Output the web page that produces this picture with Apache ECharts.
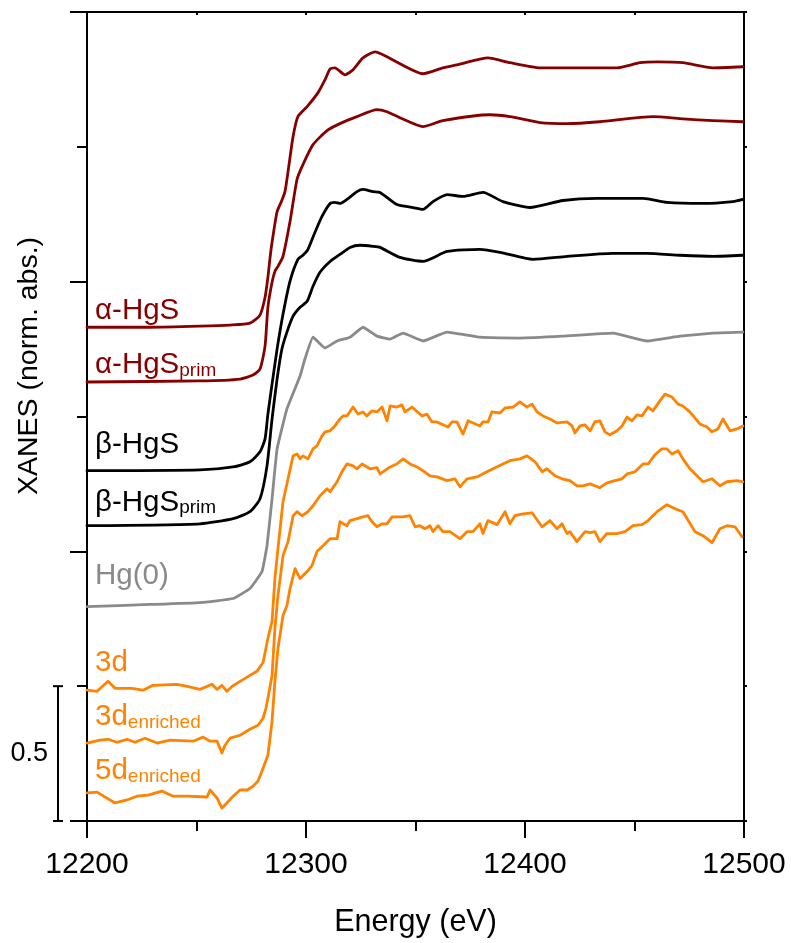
<!DOCTYPE html>
<html><head><meta charset="utf-8">
<script src="https://cdn.jsdelivr.net/npm/echarts@6/dist/echarts.min.js"></script>
<style>html,body{margin:0;padding:0;background:#fff}#c{width:791px;height:943px}</style>
</head><body><div id="c"></div>
<script>
// ---------- data (energy in eV, normalised absorbance incl. vertical offset) ----------
const xMin = 12200, xMax = 12500, xStep = 100;
const yMin = 0, yMax = 3;
const xTickLabels = ['12200', '12300', '12400', '12500'];
const scaleBarValue = 0.5;
const scaleBarLabel = '0.5';
const xAxisTitle = 'Energy (eV)';
const yAxisTitle = 'XANES (norm. abs.)';

const aHgS_E = [12200.0,12228.8,12251.6,12265.3,12274.4,12279.0,12281.3,12282.6,12283.6,12284.5,12286.8,12288.6,12290.4,12291.8,12294.1,12296.3,12300.5,12305.5,12308.7,12311.0,12313.2,12317.8,12321.5,12326.0,12331.5,12337.0,12342.9,12353.4,12362.5,12368.9,12383.1,12393.1,12406.8,12421.9,12442.0,12452.5,12460.3,12472.1,12485.8,12499.5];
const aHgS_v = [1.831,1.831,1.835,1.839,1.846,1.876,1.942,2.016,2.090,2.146,2.260,2.294,2.334,2.408,2.538,2.612,2.649,2.701,2.749,2.789,2.793,2.767,2.786,2.830,2.852,2.834,2.808,2.771,2.793,2.804,2.830,2.812,2.793,2.793,2.793,2.812,2.815,2.812,2.793,2.797];

const aHgSp_E = [12200.0,12251.6,12269.9,12275.8,12279.0,12281.3,12282.6,12284.5,12285.8,12287.2,12289.5,12292.7,12295.9,12298.6,12303.2,12309.6,12315.5,12323.3,12332.4,12337.0,12342.9,12353.4,12362.5,12384.0,12393.1,12406.8,12419.2,12434.2,12458.4,12472.1,12485.8,12499.5];
const aHgSp_v = [1.628,1.632,1.639,1.654,1.676,1.761,1.905,1.998,2.038,2.057,2.094,2.223,2.379,2.434,2.508,2.560,2.586,2.612,2.638,2.630,2.608,2.575,2.597,2.619,2.612,2.590,2.586,2.593,2.612,2.604,2.597,2.593];

const bHgS_E = [12200.0,12251.6,12266.7,12274.4,12279.0,12281.3,12282.6,12284.5,12286.8,12289.5,12292.7,12296.3,12298.6,12300.9,12304.1,12307.3,12311.0,12313.2,12315.5,12318.7,12323.3,12326.0,12330.6,12333.8,12341.5,12348.9,12353.4,12358.0,12364.4,12371.7,12380.8,12389.9,12402.3,12417.3,12432.9,12453.9,12464.8,12481.3,12495.0,12499.5];
const bHgS_v = [1.299,1.302,1.313,1.332,1.369,1.417,1.509,1.620,1.750,1.879,2.002,2.083,2.098,2.120,2.183,2.242,2.290,2.294,2.290,2.305,2.334,2.342,2.334,2.331,2.286,2.275,2.268,2.297,2.323,2.316,2.331,2.297,2.275,2.301,2.309,2.309,2.294,2.290,2.297,2.305];

const bHgSp_E = [12200.0,12251.6,12266.7,12274.4,12279.0,12282.2,12284.5,12286.8,12289.0,12291.3,12294.1,12297.3,12300.5,12303.2,12306.4,12311.0,12315.5,12320.1,12324.7,12330.6,12333.8,12342.9,12353.4,12364.4,12379.4,12388.6,12403.6,12419.2,12440.2,12455.7,12470.8,12485.8,12499.5];
const bHgSp_v = [1.095,1.102,1.121,1.147,1.195,1.317,1.491,1.639,1.750,1.813,1.872,1.905,1.927,1.983,2.035,2.075,2.101,2.127,2.135,2.131,2.127,2.090,2.075,2.112,2.120,2.109,2.083,2.094,2.105,2.105,2.098,2.094,2.098];

const hg0_E = [12200.0,12228.8,12251.6,12266.7,12274.4,12279.9,12282.2,12284.5,12286.8,12291.3,12297.3,12299.5,12303.2,12308.7,12314.2,12320.1,12326.0,12332.4,12338.4,12344.3,12353.4,12364.4,12379.4,12397.7,12417.3,12440.2,12455.7,12470.8,12485.8,12499.5];
const hg0_v = [0.795,0.803,0.810,0.825,0.862,0.925,1.021,1.195,1.380,1.528,1.650,1.713,1.794,1.754,1.780,1.794,1.831,1.798,1.787,1.809,1.780,1.813,1.794,1.791,1.798,1.809,1.780,1.798,1.809,1.813];

const d3_E = [12200.0,12204.6,12209.6,12212.8,12220.5,12225.6,12230.1,12241.1,12245.7,12251.6,12257.1,12259.4,12261.6,12263.9,12266.2,12269.9,12274.4,12277.6,12280.4,12282.6,12284.5,12285.8,12287.2,12289.5,12291.8,12294.1,12295.9,12297.3,12298.6,12300.9,12303.2,12305.0,12307.3,12308.7,12311.0,12313.2,12315.5,12316.9,12318.7,12321.5,12323.7,12326.0,12327.8,12330.1,12332.4,12334.7,12337.0,12338.4,12341.5,12343.8,12345.2,12348.4,12353.0,12355.2,12357.5,12359.8,12364.8,12366.7,12368.9,12371.7,12374.0,12379.4,12380.8,12383.1,12384.9,12388.6,12390.9,12394.5,12397.7,12400.9,12403.2,12405.5,12408.2,12411.4,12414.6,12419.2,12421.5,12422.8,12425.1,12427.4,12429.7,12431.9,12434.2,12436.5,12438.8,12442.0,12444.3,12446.6,12448.8,12451.1,12453.4,12456.2,12458.4,12461.6,12463.9,12467.1,12469.9,12472.1,12475.3,12479.9,12483.1,12485.4,12488.1,12490.4,12493.6,12496.8,12499.5];
const d3_v = [0.485,0.481,0.518,0.492,0.492,0.485,0.503,0.507,0.499,0.488,0.507,0.488,0.503,0.481,0.499,0.518,0.540,0.555,0.588,0.677,0.740,0.899,1.010,1.184,1.269,1.354,1.361,1.343,1.354,1.343,1.380,1.391,1.428,1.443,1.447,1.465,1.491,1.502,1.502,1.535,1.509,1.517,1.502,1.521,1.517,1.535,1.484,1.539,1.535,1.543,1.517,1.535,1.502,1.509,1.480,1.480,1.461,1.480,1.480,1.435,1.484,1.465,1.480,1.480,1.517,1.513,1.532,1.535,1.554,1.535,1.546,1.517,1.502,1.491,1.476,1.480,1.465,1.439,1.465,1.469,1.447,1.480,1.484,1.443,1.432,1.447,1.465,1.498,1.484,1.506,1.502,1.535,1.521,1.558,1.583,1.572,1.546,1.539,1.517,1.472,1.461,1.443,1.454,1.491,1.447,1.454,1.465];

const d3e_E = [12200.0,12205.9,12209.6,12213.7,12218.3,12221.9,12226.5,12232.0,12237.9,12248.4,12253.0,12256.2,12259.4,12261.6,12263.0,12265.3,12269.9,12274.4,12278.1,12280.4,12281.7,12282.6,12284.5,12285.8,12287.2,12289.5,12291.8,12294.1,12295.9,12298.2,12300.9,12303.2,12306.4,12309.6,12311.0,12314.2,12316.4,12318.7,12321.5,12323.3,12325.6,12329.2,12332.4,12333.8,12338.4,12341.5,12344.3,12347.5,12350.7,12353.4,12356.6,12359.8,12364.4,12368.0,12370.3,12373.5,12378.1,12382.6,12385.4,12389.9,12393.1,12397.7,12400.9,12404.6,12407.8,12410.0,12413.7,12416.9,12420.5,12423.7,12426.5,12429.7,12434.2,12437.4,12441.1,12444.3,12446.6,12450.2,12453.9,12456.2,12459.3,12462.5,12464.8,12467.1,12469.9,12472.1,12475.3,12478.5,12481.3,12485.4,12489.0,12492.2,12496.8,12499.5];
const d3e_v = [0.289,0.300,0.303,0.292,0.303,0.292,0.307,0.289,0.300,0.296,0.311,0.296,0.296,0.252,0.281,0.307,0.318,0.340,0.355,0.381,0.418,0.455,0.540,0.714,0.836,0.984,1.036,1.132,1.147,1.132,1.147,1.169,1.206,1.232,1.221,1.258,1.295,1.324,1.317,1.306,1.324,1.306,1.310,1.287,1.313,1.324,1.343,1.324,1.313,1.299,1.280,1.276,1.262,1.269,1.239,1.269,1.276,1.295,1.306,1.324,1.336,1.343,1.354,1.332,1.295,1.306,1.280,1.269,1.262,1.243,1.243,1.250,1.236,1.254,1.262,1.269,1.287,1.295,1.324,1.324,1.358,1.380,1.380,1.361,1.373,1.343,1.306,1.280,1.258,1.269,1.243,1.258,1.262,1.258];

const d5e_E = [12200.0,12204.6,12209.1,12212.8,12218.3,12222.8,12227.9,12234.2,12239.3,12245.7,12254.8,12256.2,12259.4,12261.6,12263.9,12266.7,12269.9,12273.1,12275.8,12278.1,12280.4,12282.6,12284.5,12285.8,12287.2,12289.5,12291.3,12292.7,12295.0,12297.3,12300.5,12302.7,12305.0,12307.8,12311.0,12314.2,12315.5,12318.7,12320.1,12323.3,12326.0,12328.3,12330.1,12332.4,12334.7,12337.0,12339.3,12344.3,12347.5,12349.8,12352.0,12354.3,12356.6,12358.0,12360.3,12362.5,12365.7,12370.3,12373.5,12376.2,12379.4,12380.8,12383.1,12387.2,12390.9,12393.1,12395.4,12399.1,12403.2,12407.8,12411.4,12414.6,12416.9,12419.2,12420.5,12423.7,12427.4,12429.7,12431.9,12434.2,12437.4,12442.0,12445.7,12449.3,12453.4,12456.2,12460.3,12464.8,12468.5,12472.1,12477.6,12481.3,12485.4,12489.0,12492.2,12495.9,12499.1];
const d5e_v = [0.104,0.107,0.085,0.067,0.078,0.092,0.096,0.111,0.092,0.092,0.089,0.115,0.085,0.048,0.067,0.092,0.115,0.115,0.129,0.148,0.196,0.244,0.370,0.518,0.640,0.762,0.799,0.862,0.936,0.899,0.925,0.947,0.999,1.021,1.047,1.047,1.110,1.095,1.114,1.121,1.128,1.132,1.110,1.091,1.102,1.102,1.128,1.128,1.132,1.091,1.095,1.084,1.095,1.073,1.095,1.073,1.073,1.047,1.073,1.073,1.102,1.066,1.114,1.099,1.147,1.102,1.132,1.139,1.143,1.091,1.114,1.084,1.102,1.066,1.073,1.036,1.073,1.069,1.073,1.036,1.066,1.066,1.073,1.095,1.099,1.114,1.147,1.173,1.158,1.147,1.073,1.058,1.032,1.084,1.095,1.091,1.054];

// label text: [main, subscript]
const seriesNames = ['α-HgS','α-HgSprim','β-HgS','β-HgSprim','Hg(0)','3d','3denriched','5denriched'];
const labelMain = ['α-HgS','α-HgS','β-HgS','β-HgS','Hg(0)','3d','3d','5d'];
const labelSub  = ['','prim','','prim','','','enriched','enriched'];

// ---------- styling ----------
const RED = '#870000', BLACK = '#000000', GREY = '#8a8a8a', ORANGE = '#ff8200';
const FONT = '"Liberation Sans", Arial, Helvetica, sans-serif';
const seriesE = [aHgS_E, aHgSp_E, bHgS_E, bHgSp_E, hg0_E, d3_E, d3e_E, d5e_E];
const seriesV = [aHgS_v, aHgSp_v, bHgS_v, bHgSp_v, hg0_v, d3_v, d3e_v, d5e_v];
const colors  = [RED, RED, BLACK, BLACK, GREY, ORANGE, ORANGE, ORANGE];
const smooths = [0.2, 0.2, 0.2, 0.2, 0.1, false, false, false];
const labelGap = [5, 6, 15, 12, 20, 16, 15, 11]; // px from curve start to text baseline

function zip(a, b) { const n = Math.min(a.length, b.length); const out = []; for (let i = 0; i < n; i++) out.push([a[i], b[i]]); return out; }

const chart = echarts.init(document.getElementById('c'), null, { renderer: 'canvas' });
const grid = { left: 87, right: 47, top: 12, bottom: 120, containLabel: false };

const axisLineStyle = { color: '#000', width: 2 };
chart.setOption({
  backgroundColor: '#fff',
  animation: false,
  grid: grid,
  xAxis: [{
    type: 'value', min: xMin, max: xMax, interval: xStep, position: 'bottom',
    axisLine: { show: true, onZero: false, lineStyle: axisLineStyle },
    axisTick: { show: true, inside: false, length: 17, lineStyle: { color: '#000', width: 2 } },
    minorTick: { show: true, splitNumber: 2, length: 10, lineStyle: { color: '#000', width: 2 } },
    splitLine: { show: false },
    axisLabel: { show: true, color: '#000', fontSize: 30, fontFamily: FONT, margin: 29,
      formatter: v => { const i = Math.round((v - xMin) / xStep); return xTickLabels[i] !== undefined ? xTickLabels[i] : String(v); } },
    name: xAxisTitle, nameLocation: 'middle', nameGap: 86,
    nameTextStyle: { color: '#000', fontSize: 30.5, fontFamily: FONT }
  }, {
    type: 'value', min: xMin, max: xMax, interval: 50, position: 'top',
    axisLine: { show: true, onZero: false, lineStyle: axisLineStyle },
    axisTick: { show: true, inside: true, length: 3, lineStyle: { color: '#000', width: 2 } },
    axisLabel: { show: false }, splitLine: { show: false }
  }],
  yAxis: [{
    type: 'value', min: yMin, max: yMax, interval: 1, position: 'left',
    axisLine: { show: true, onZero: false, lineStyle: axisLineStyle },
    axisTick: { show: true, inside: false, length: 17, lineStyle: { color: '#000', width: 2 } },
    minorTick: { show: true, splitNumber: 2, length: 10, lineStyle: { color: '#000', width: 2 } },
    splitLine: { show: false },
    axisLabel: { show: false }
  }, {
    type: 'value', min: yMin, max: yMax, interval: 0.5, position: 'right',
    axisLine: { show: true, onZero: false, lineStyle: axisLineStyle },
    axisTick: { show: true, inside: false, length: 3, lineStyle: { color: '#000', width: 2 } },
    axisLabel: { show: false }, splitLine: { show: false }
  }],
  series: seriesNames.map((name, i) => ({
    name: name, type: 'line', xAxisIndex: 0, yAxisIndex: 0,
    data: zip(seriesE[i], seriesV[i]),
    showSymbol: false, smooth: smooths[i],
    lineStyle: { color: colors[i], width: 2.8, join: 'round', cap: 'round' },
    itemStyle: { color: colors[i] },
    z: 3
  }))
});

// ---------- annotations placed through the chart's own coordinate system ----------
function px(x, y) { return chart.convertToPixel({ gridIndex: 0 }, [x, y]); }
const graphics = [];
seriesNames.forEach((name, i) => {
  const p = px(seriesE[i][0], seriesV[i][0]);
  const rich = {
    m: { fontSize: 29.5, fontFamily: FONT, fill: colors[i], verticalAlign: 'bottom', lineHeight: 29 },
    s: { fontSize: 19, fontFamily: FONT, fill: colors[i], verticalAlign: 'bottom', lineHeight: 29 }
  };
  const txt = '{m|' + labelMain[i] + '}' + (labelSub[i] ? '{s|' + labelSub[i] + '}' : '');
  graphics.push({
    type: 'text', x: p[0] + 8, y: p[1] - labelGap[i] + 4, z: 10,
    style: { text: txt, rich: rich, fill: colors[i], align: 'left', verticalAlign: 'bottom' }
  });
});
// y-axis title (rotated)
graphics.push({
  type: 'text', x: 29, y: 366, rotation: Math.PI / 2,
  style: { text: yAxisTitle, fontSize: 28.5, fontFamily: FONT, fill: '#000', align: 'center', verticalAlign: 'middle' }
});
// vertical scale bar (0 to 0.5)
const b0 = px(xMin, yMin), b1 = px(xMin, yMin + scaleBarValue);
const bx = b0[0] - 29;
graphics.push({ type: 'line', shape: { x1: bx, y1: b0[1], x2: bx, y2: b1[1] }, style: { stroke: '#000', lineWidth: 2 } });
graphics.push({ type: 'line', shape: { x1: bx - 5, y1: b0[1], x2: bx + 5, y2: b0[1] }, style: { stroke: '#000', lineWidth: 2 } });
graphics.push({ type: 'line', shape: { x1: bx - 5, y1: b1[1], x2: bx + 5, y2: b1[1] }, style: { stroke: '#000', lineWidth: 2 } });
graphics.push({ type: 'text', x: bx - 10, y: (b0[1] + b1[1]) / 2, style: { text: scaleBarLabel, fontSize: 27, fontFamily: FONT, fill: '#000', align: 'right', verticalAlign: 'middle' } });
chart.setOption({ graphic: graphics });
</script>
</body></html>
